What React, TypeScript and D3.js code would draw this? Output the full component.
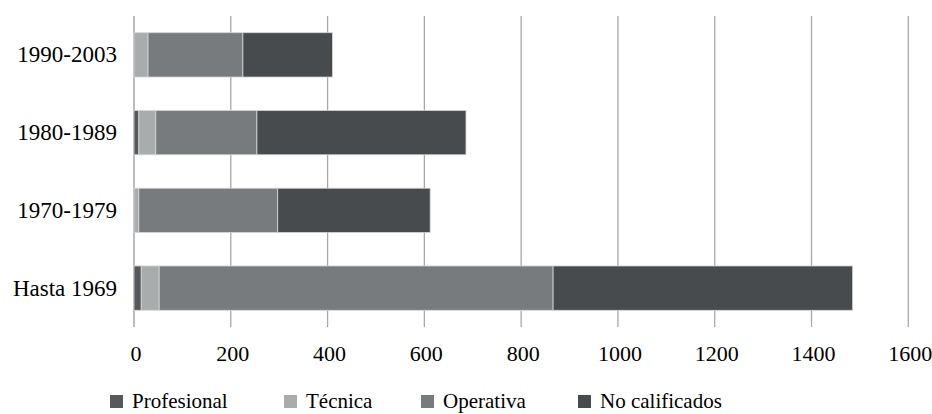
import { useEffect, useRef } from "react";
import * as d3 from "d3";

const categories = ["1990-2003", "1980-1989", "1970-1979", "Hasta 1969"];
const seriesNames = ["Profesional", "Técnica", "Operativa", "No calificados"];
const profesional = [0, 10, 0, 15];
const tecnica = [29, 35, 10, 37];
const operativa = [196, 209, 287, 814];
const noCalificados = [185, 432, 315, 619];
const xTicks = [0, 200, 400, 600, 800, 1000, 1200, 1400, 1600];

const colors = ["#55595c", "#a8acad", "#777b7e", "#474b4e"];
const legendX = [110, 284, 421, 578];

const W = 932;
const H = 414;
const FONT = "'Liberation Serif', 'Times New Roman', serif";

export default function App() {
  const ref = useRef<SVGSVGElement>(null);

  useEffect(() => {
    const svg = d3.select(ref.current);
    svg.selectAll("*").remove();

    const x = d3.scaleLinear().domain([0, 1600]).range([134, 908.3]);
    const y = d3.scaleBand<string>()
      .domain(categories)
      .range([16, 327])
      .paddingInner(0.43)
      .paddingOuter(0.215);

    const rows = categories.map((c, i) => ({
      cat: c,
      Profesional: profesional[i],
      "Técnica": tecnica[i],
      Operativa: operativa[i],
      "No calificados": noCalificados[i],
    }));
    const stacked = d3.stack<any>().keys(seriesNames)(rows);

    // gridlines
    svg.append("g")
      .selectAll("line")
      .data(xTicks)
      .join("line")
      .attr("x1", (d) => x(d))
      .attr("x2", (d) => x(d))
      .attr("y1", 16)
      .attr("y2", 327)
      .attr("stroke", (d) => (d === 0 ? "#9a9a9a" : "#a8a8a8"))
      .attr("stroke-width", 1.3);

    // bars
    svg.append("g")
      .selectAll("g")
      .data(stacked)
      .join("g")
      .attr("fill", (_, i) => colors[i])
      .selectAll("rect")
      .data((s) => s.map((d) => ({ d, cat: d.data.cat })))
      .join("rect")
      .attr("x", (p) => x(p.d[0]))
      .attr("width", (p) => Math.max(0, x(p.d[1]) - x(p.d[0])))
      .attr("y", (p) => y(p.cat)!)
      .attr("height", y.bandwidth())
      .attr("stroke", (p) => (p.d[1] - p.d[0] > 0 ? "#d6d6d6" : "none"))
      .attr("stroke-width", 0.8);

    // x tick labels
    svg.append("g")
      .selectAll("text")
      .data(xTicks)
      .join("text")
      .attr("x", (d) => x(d) + 2)
      .attr("y", 361)
      .attr("text-anchor", "middle")
      .attr("font-family", FONT)
      .attr("font-size", 22)
      .attr("fill", "#000")
      .text((d) => d);

    // category labels
    svg.append("g")
      .selectAll("text")
      .data(categories)
      .join("text")
      .attr("x", 117)
      .attr("y", (d) => y(d)! + y.bandwidth() / 2 + 7.5)
      .attr("text-anchor", "end")
      .attr("font-family", FONT)
      .attr("font-size", 23)
      .attr("fill", "#000")
      .text((d) => d);

    // legend
    const lg = svg.append("g")
      .selectAll("g")
      .data(seriesNames)
      .join("g")
      .attr("transform", (_, i) => `translate(${legendX[i]},0)`);
    lg.append("rect")
      .attr("x", 0)
      .attr("y", 395)
      .attr("width", 13)
      .attr("height", 13)
      .attr("fill", (_, i) => colors[i]);
    lg.append("text")
      .attr("x", 22)
      .attr("y", 408)
      .attr("font-family", FONT)
      .attr("font-size", 21)
      .attr("fill", "#000")
      .text((d) => d);
  }, []);

  return (
    <svg
      ref={ref}
      width={W}
      height={H}
      style={{ position: "absolute", left: 0, top: 0, background: "#fff" }}
    />
  );
}
